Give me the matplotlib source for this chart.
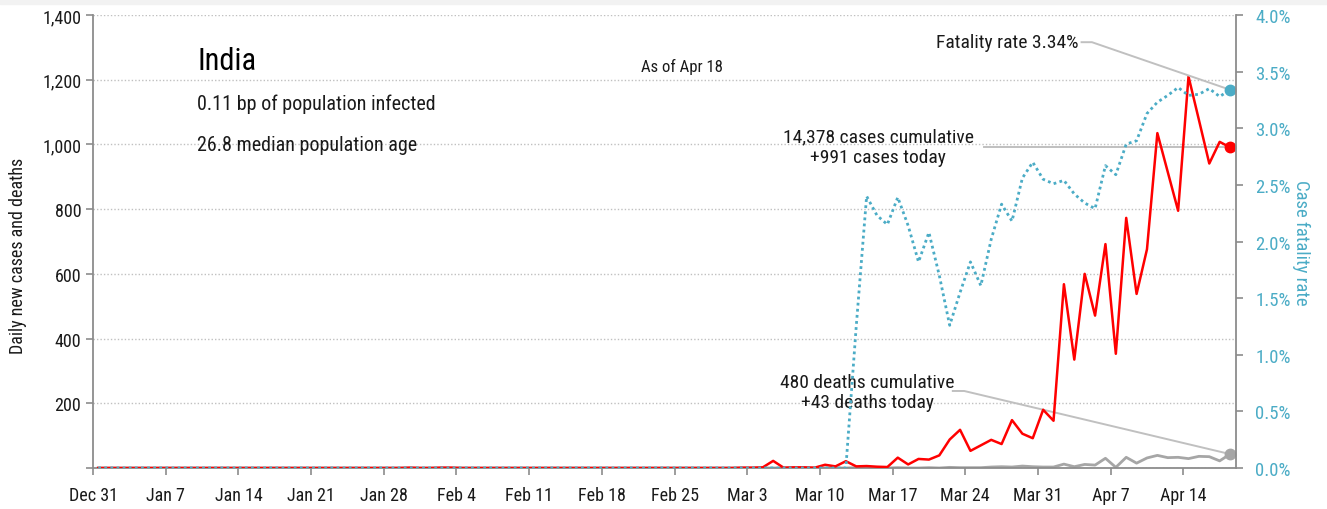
import matplotlib
matplotlib.use("Agg")
import matplotlib.pyplot as plt
import pandas as pd

plt.rcParams['font.family'] = ['Roboto Condensed', 'Liberation Sans', 'DejaVu Sans']

# daily values, Dec 31 2019 .. Apr 18 2020
dates = pd.date_range("2019-12-31", "2020-04-18", freq="D")

cases_jan_feb = [0, 0, 0, 0, 0, 0, 0, 0, 0, 0, 0, 0, 0, 0, 0, 0, 0, 0, 0, 0,
                 0, 0, 0, 0, 0, 0, 0, 0, 0, 0, 1, 0, 0, 1, 1, 0, 0, 0, 0, 0,
                 0, 0, 0, 0, 0, 0, 0, 0, 0, 0, 0, 0, 0, 0, 0, 0, 0, 0, 0, 0, 0]
cases_mar_apr = [0, 1, 1, 2, 22, 1, 2, 2, 1, 10, 5, 21, 5, 6, 4, 3, 32, 11, 28, 26,
                 39, 88, 118, 53, 70, 87, 74, 148, 106, 92, 180,
                 146, 568, 335, 600, 471, 692, 353, 773, 538, 676, 1035, 915, 795,
                 1210, 1076, 941, 1008, 991]

deaths_jan_feb = [0] * 61
deaths_mar_apr = [0, 0, 0, 0, 0, 0, 0, 0, 0, 0, 0, 0, 1, 1, 0, 0, 1, 0, 0, 1,
                  0, 2, 1, 1, 1, 3, 4, 3, 6, 4, 3,
                  3, 12, 4, 11, 9, 30, 2, 33, 15, 31, 39, 32, 33,
                  29, 36, 35, 22, 43]

cfr_jan_feb = [0.0] * 61
cfr_mar_apr = [0, 0, 0, 0, 0, 0, 0, 0, 0, 0, 0, 0, 1.25, 2.40, 2.23, 2.15, 2.39, 2.14, 1.82, 2.08,
               1.70, 1.26, 1.55, 1.82, 1.61, 2.02, 2.33, 2.18, 2.56, 2.70, 2.55,
               2.51, 2.54, 2.42, 2.34, 2.29, 2.67, 2.59, 2.86, 2.89, 3.13, 3.23, 3.29, 3.36,
               3.29, 3.30, 3.35, 3.28, 3.34]

total_cases = 14378
total_deaths = 480

cases = cases_jan_feb + cases_mar_apr
deaths = deaths_jan_feb + deaths_mar_apr
cfr = cfr_jan_feb + cfr_mar_apr

RED = "#ff0000"
BLUE = "#4bacc6"
GREY = "#a6a6a6"
LEAD = "#c0c0c0"
SPINE = "#8c8c8c"
INK = "#1a1a1a"

# points sit at midday
x = dates + pd.Timedelta(hours=12)

fig = plt.figure(figsize=(13.27, 5.10), dpi=100)
fig.patches.append(plt.Rectangle((0, 0.99), 1, 0.01, transform=fig.transFigure,
                                 color="#f2f2f2", zorder=0))
ax = fig.add_axes([0.0701, 0.0804, 0.8613, 0.8882])
ax2 = ax.twinx()

ax.plot(x, cases, color=RED, lw=1.8, zorder=3)
ax.plot(x, deaths, color=GREY, lw=2, zorder=2)
ax.plot(x[-1], cases[-1], "o", color=RED, ms=7.5, zorder=4)
ax.plot(x[-1], deaths[-1], "o", color=GREY, ms=7.5, zorder=4)

ax2.plot(x, cfr, color=BLUE, lw=2, linestyle=(0, (1, 1.2)))
ax2.plot(x[-1], cfr[-1], "o", color=BLUE, ms=7.5)

x0 = pd.Timestamp("2019-12-31")
ax.set_xlim(x0, x0 + pd.Timedelta(days=110.07))
ax.set_ylim(0, 1400)
ax2.set_ylim(0, 4)

yt = list(range(0, 1401, 200))
ax.set_yticks(yt)
ax.set_yticklabels([""] + [f"{v:,}" for v in yt[1:]])
ax.grid(axis="y", color=LEAD, linestyle=(0, (1, 1.5)), lw=1)
ax.set_axisbelow(True)

rt = [i * 0.5 for i in range(9)]
ax2.set_yticks(rt)
ax2.set_yticklabels([f"{v:.1f}%" for v in rt])

xt = pd.date_range("2019-12-31", "2020-04-14", freq="7D")
ax.set_xticks(xt)
ax.set_xticklabels([f"{d:%b} {d.day}" for d in xt])

for a in (ax, ax2):
    a.spines["top"].set_visible(False)
    for s in ("left", "bottom", "right"):
        a.spines[s].set_color(SPINE)
        a.spines[s].set_linewidth(1.3)
ax.spines["right"].set_visible(False)
ax2.spines["left"].set_visible(False)
ax2.spines["bottom"].set_visible(False)

ax.tick_params(axis="both", colors=SPINE, labelcolor=INK, labelsize=13, length=5, width=1.2)
ax.tick_params(axis="x", pad=8)
ax2.tick_params(axis="y", colors=SPINE, labelcolor=BLUE, labelsize=13.5, length=5, width=1.2, pad=9)

ax.set_ylabel("Daily new cases and deaths", fontsize=13, color=INK)
ax.yaxis.set_label_coords(-0.058, 0.47)
ax2.set_ylabel("Case fatality rate", fontsize=13.5, color=BLUE, rotation=270, labelpad=14)

ax.text(0.091, 0.90, "India", transform=ax.transAxes, fontsize=22, va="center", color="#000000")
ax.text(0.091, 0.806, "0.11 bp of population infected", transform=ax.transAxes,
        fontsize=14.5, va="center", color=INK)
ax.text(0.091, 0.715, "26.8 median population age", transform=ax.transAxes,
        fontsize=14.5, va="center", color=INK)
ax.text(0.515, 0.887, "As of Apr 18", transform=ax.transAxes, fontsize=12,
        ha="center", va="center", color=INK)

day = lambda d: x0 + pd.Timedelta(days=d)

# cases label
ax.text(day(75.6), 992, f"{total_cases:,} cases cumulative\n+{cases[-1]} cases today",
        fontsize=14, ha="center", va="center", linespacing=1.2, color=INK)
ax.plot([day(85.8), x[-1]], [cases[-1], cases[-1]], color=LEAD, lw=1.4, zorder=1)

# deaths label
ax.text(day(74.6), 235, f"{total_deaths:,} deaths cumulative\n+{deaths[-1]} deaths today",
        fontsize=14, ha="center", va="center", linespacing=1.2, color=INK)
ax.plot([day(82.8), day(83.9), x[-1]], [238, 238, deaths[-1]], color=LEAD, lw=1.4, zorder=1)

# fatality label
ax2.text(day(88.0), 3.76, f"Fatality rate {cfr[-1]:.2f}%", fontsize=14,
         ha="center", va="center", color=INK)
ax2.plot([day(95.2), day(96.2), x[-1]], [3.76, 3.76, cfr[-1]], color=LEAD, lw=1.4, zorder=1)

fig.savefig("out.png", dpi=100)
